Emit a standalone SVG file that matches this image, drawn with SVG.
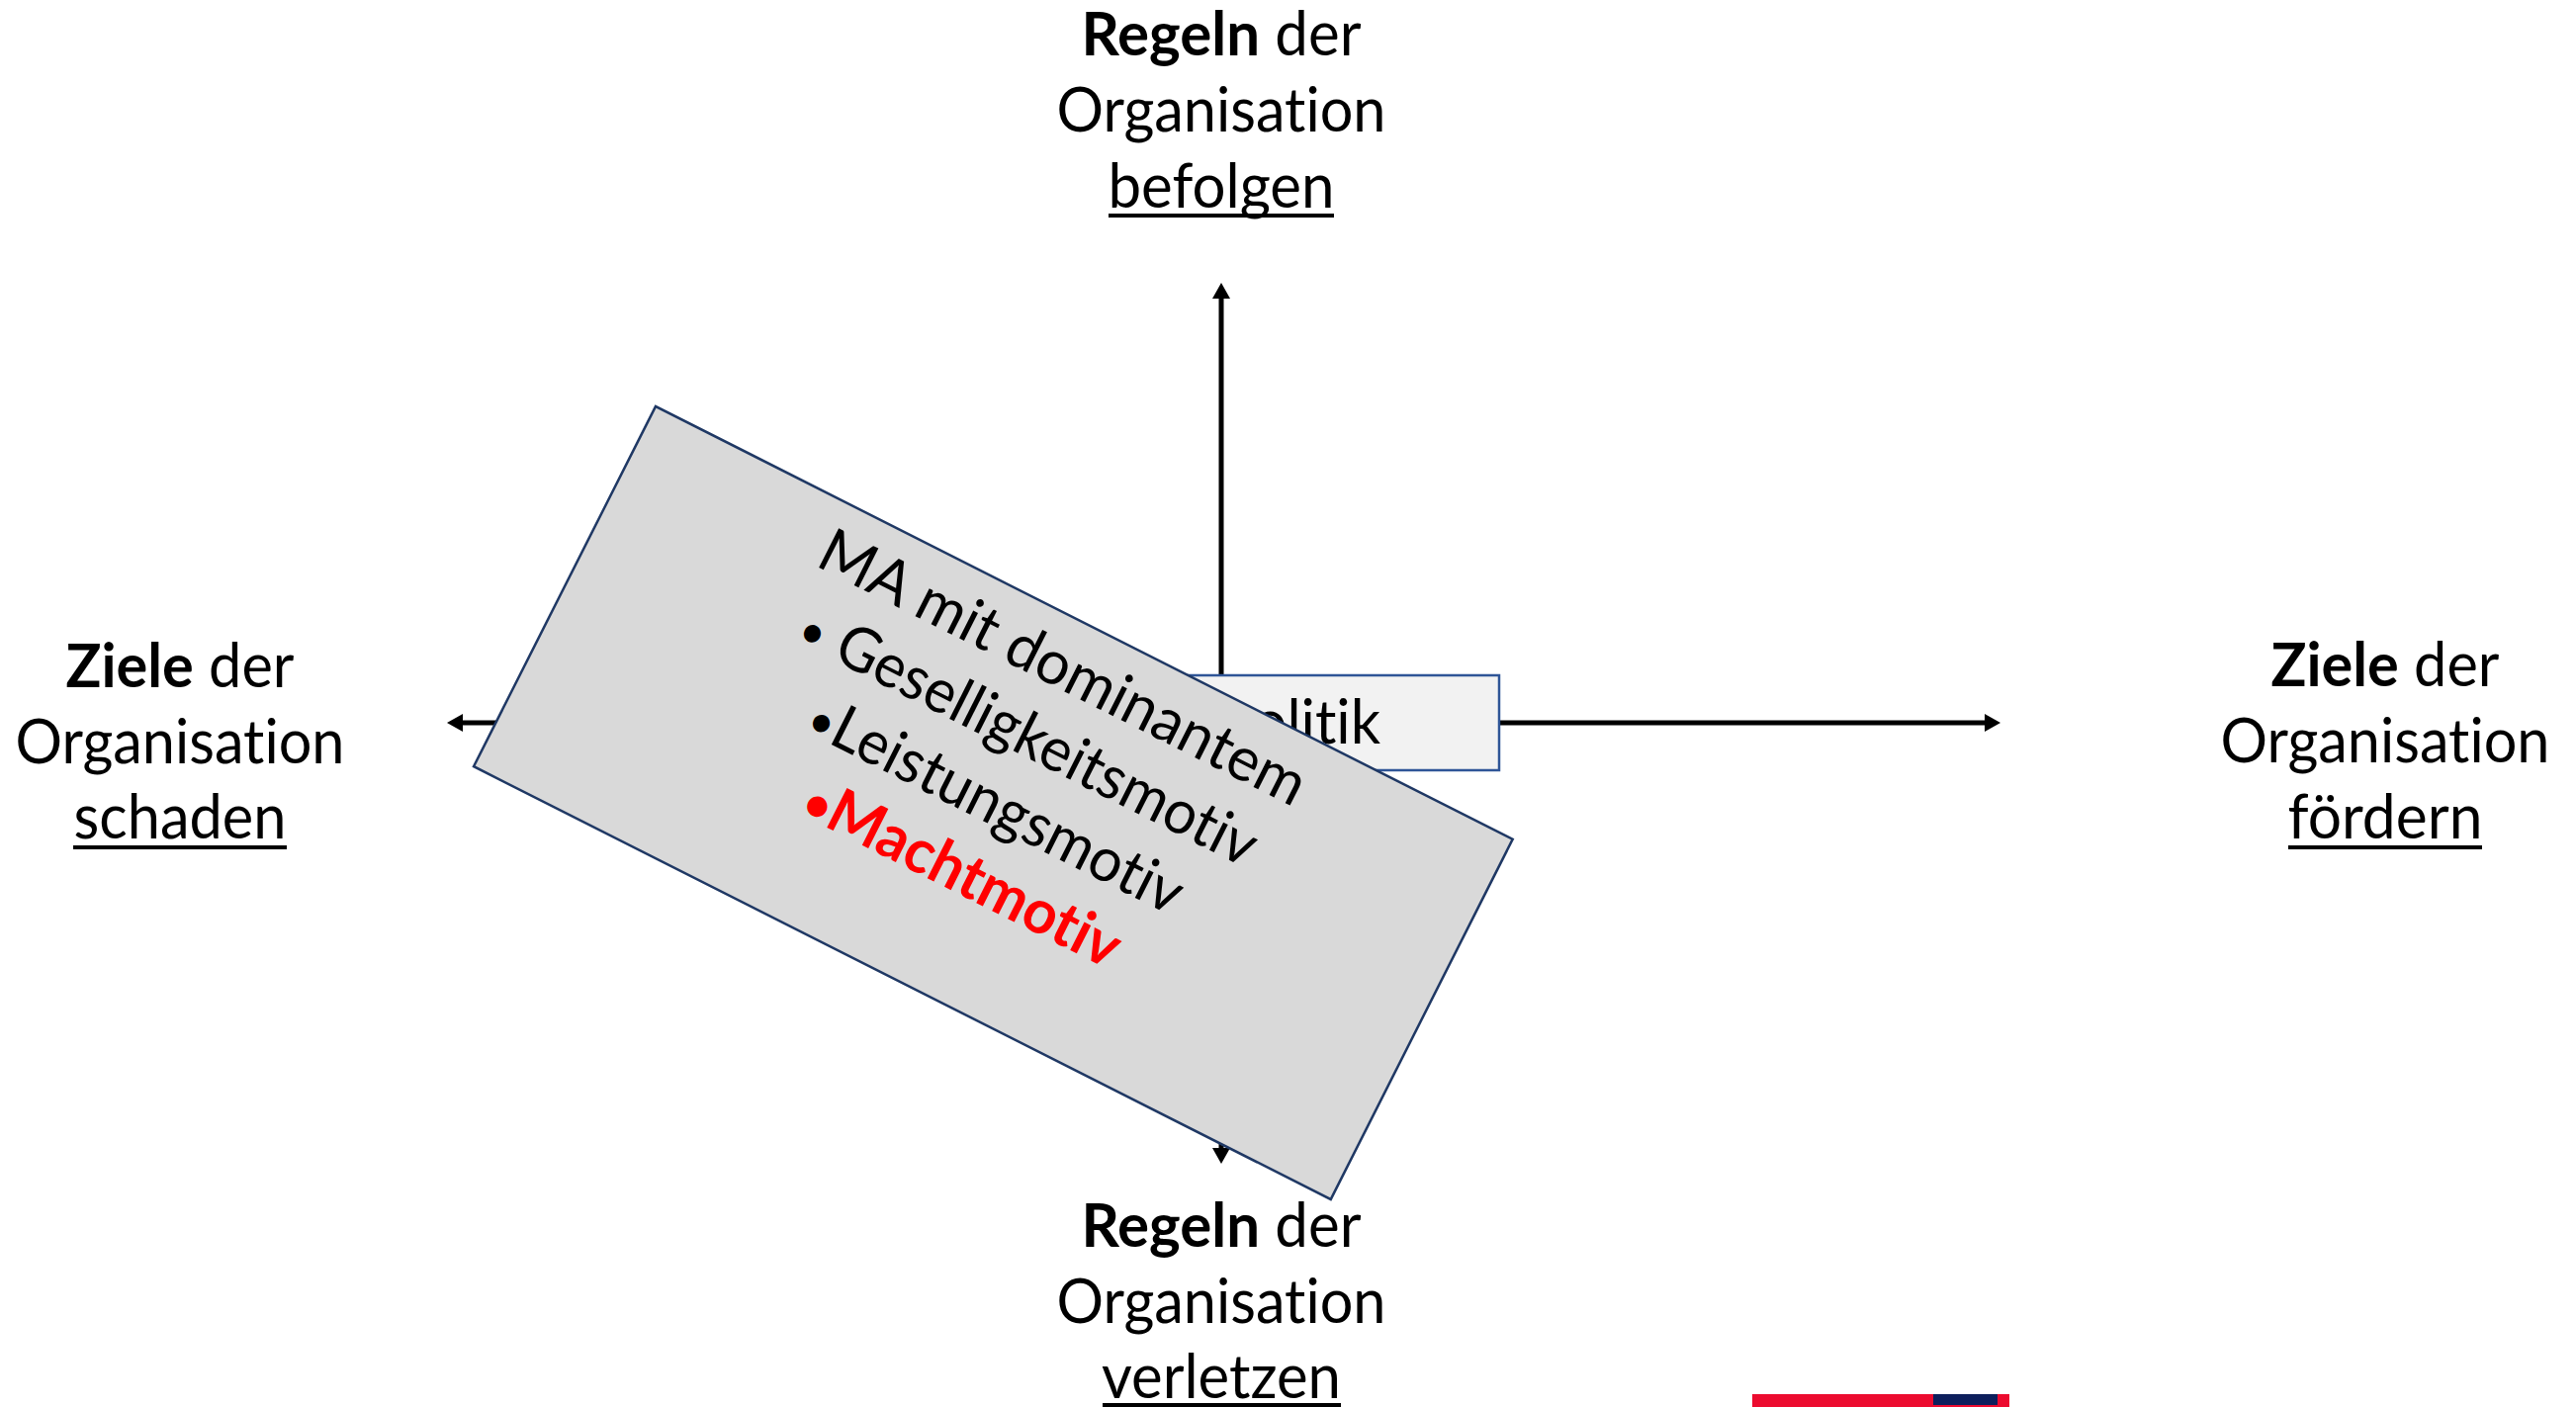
<svg xmlns="http://www.w3.org/2000/svg" width="2605" height="1423" viewBox="0 0 2605 1423">
  <style>
    .lbl { font-family: Lato, "Open Sans", "Liberation Sans", sans-serif; font-size: 62px; fill: #000; text-anchor: middle; font-variant-ligatures: none; font-feature-settings: "liga" 0, "clig" 0; }
    .b { font-weight: 700; }
    .bul { font-size: 48px; }
    .ul { fill: #000; }
    .axis { stroke: #000; stroke-width: 5; fill: none; }
    .card { fill: #d9d9d9; stroke: #1f3864; stroke-width: 2.5; }
    .pbox { fill: #f2f2f2; stroke: #2f5597; stroke-width: 2.5; }
    .red { fill: #ff0000; font-weight: 700; }
  </style>
  <defs>
    <marker id="ah" viewBox="0 0 16 18" refX="0" refY="9" markerWidth="16" markerHeight="18" markerUnits="userSpaceOnUse" orient="auto-start-reverse">
      <path d="M0,0 L16,9 L0,18 Z" fill="#000"/>
    </marker>
  </defs>
  <rect width="2605" height="1423" fill="#fff"/>

  <g id="connectors">
    <path class="axis" d="M1235,302 L1235,1161" marker-start="url(#ah)" marker-end="url(#ah)"/>
    <path class="axis" d="M468,731 L2007,731" marker-start="url(#ah)" marker-end="url(#ah)"/>
  </g>

  <g id="top-label">
    <text class="lbl" x="1235" y="56" textLength="283" lengthAdjust="spacingAndGlyphs"><tspan class="b">Regeln</tspan> der</text>
    <text class="lbl" x="1235" y="133" textLength="333" lengthAdjust="spacingAndGlyphs">Organisation</text>
    <text class="lbl" x="1235" y="210" textLength="229" lengthAdjust="spacingAndGlyphs">befolgen</text>
    <rect class="ul" x="1121" y="216" width="228" height="4"/>
  </g>

  <g id="left-label">
    <text class="lbl" x="182" y="695" textLength="231" lengthAdjust="spacingAndGlyphs"><tspan class="b">Ziele</tspan> der</text>
    <text class="lbl" x="182" y="772" textLength="333" lengthAdjust="spacingAndGlyphs">Organisation</text>
    <text class="lbl" x="182" y="848" textLength="215" lengthAdjust="spacingAndGlyphs">schaden</text>
    <rect class="ul" x="74" y="855" width="216" height="4"/>
  </g>

  <g id="right-label">
    <text class="lbl" x="2412" y="694" textLength="231" lengthAdjust="spacingAndGlyphs"><tspan class="b">Ziele</tspan> der</text>
    <text class="lbl" x="2412" y="771" textLength="333" lengthAdjust="spacingAndGlyphs">Organisation</text>
    <text class="lbl" x="2412" y="848" textLength="197" lengthAdjust="spacingAndGlyphs">fördern</text>
    <rect class="ul" x="2314" y="855" width="196" height="4"/>
  </g>

  <g id="bottom-label">
    <text class="lbl" x="1235" y="1261" textLength="283" lengthAdjust="spacingAndGlyphs"><tspan class="b">Regeln</tspan> der</text>
    <text class="lbl" x="1235" y="1338" textLength="333" lengthAdjust="spacingAndGlyphs">Organisation</text>
    <text class="lbl" x="1235" y="1414" textLength="242" lengthAdjust="spacingAndGlyphs">verletzen</text>
    <rect class="ul" x="1115" y="1419" width="241" height="4"/>
  </g>

  <g id="mikropolitik-box">
    <rect class="pbox" x="954" y="683" width="562" height="96"/>
    <text class="lbl" x="1238" y="752" textLength="316" lengthAdjust="spacingAndGlyphs">Mikropolitik</text>
  </g>

  <g id="motive-card" transform="translate(663,411) rotate(26.8)">
    <rect class="card" x="0" y="0" width="971" height="408"/>
    <text class="lbl" x="487" y="71" textLength="543" lengthAdjust="spacingAndGlyphs">MA mit dominantem</text>
    <text class="lbl" x="487" y="148" textLength="510" lengthAdjust="spacingAndGlyphs"><tspan class="bul">•</tspan> Geselligkeitsmotiv</text>
    <text class="lbl" x="489" y="225" textLength="416" lengthAdjust="spacingAndGlyphs"><tspan class="bul">•</tspan>Leistungsmotiv</text>
    <text class="lbl red" x="490" y="302" textLength="350" lengthAdjust="spacingAndGlyphs"><tspan class="bul">•</tspan>Machtmotiv</text>
  </g>

  <g id="footer-bar">
    <rect x="1772" y="1410" width="260" height="13" fill="#ec0b2f"/>
    <rect x="1955" y="1410" width="65" height="11" fill="#0d1f5c"/>
  </g>
</svg>
